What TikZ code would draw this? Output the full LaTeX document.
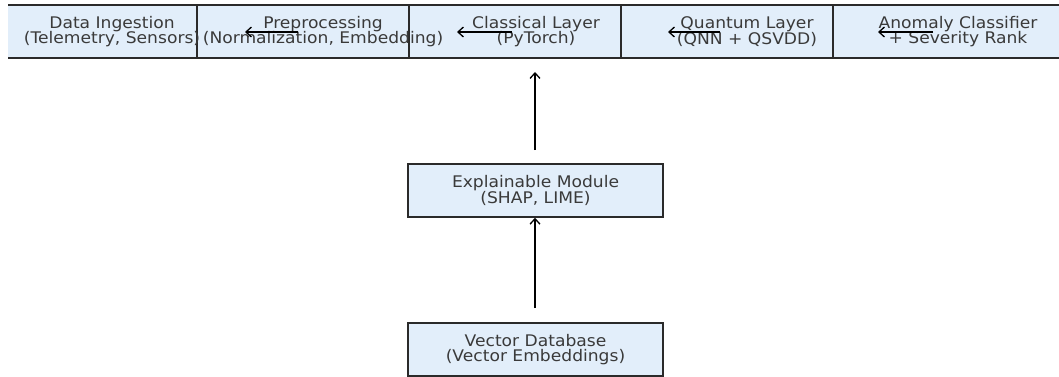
\documentclass[tikz,border=0pt]{standalone}
\usepackage{fontspec}
\newfontfamily\djfont[FakeStretch=1.07]{DejaVu Sans}
\usetikzlibrary{arrows.meta}
\definecolor{boxfill}{HTML}{E2EEFA}
\definecolor{boxline}{HTML}{2A2A2A}
\definecolor{txt}{HTML}{3A3A3A}
\tikzset{
  box/.style={draw=boxline, fill=boxfill, line width=1.5pt, inner sep=0pt},
  topbox/.style={box, minimum height=53pt},
  midbox/.style={box, minimum width=255pt, minimum height=53pt, text=txt, align=center,
     font=\djfont\fontsize{16}{15.5}\selectfont},
  lbl/.style={text=txt, align=center, inner sep=0pt, font=\djfont\fontsize{16}{15.5}\selectfont},
  conn/.style={draw=black, line width=1.4pt, -{Straight Barb[length=5.5pt,width=10pt,line width=1.3pt]}}
}
\begin{document}
\begin{tikzpicture}[x=1pt,y=-1pt]
\useasboundingbox (0,0) rectangle (1059,377);
\begin{scope}
\clip (8,0) rectangle (1059,377);
\node[topbox, minimum width=212pt] (b1) at (91,31.5) {};
\node[topbox, minimum width=212pt] (b2) at (303,31.5) {};
\node[topbox, minimum width=212pt] (b3) at (515,31.5) {};
\node[topbox, minimum width=212pt] (b4) at (727,31.5) {};
\node[topbox, minimum width=250pt] (b5) at (958,31.5) {};
\node[lbl] (t1) at (112,31.5) {Data Ingestion\\(Telemetry, Sensors)};
\node[lbl] (t2) at (323,31.5) {Preprocessing\\(Normalization, Embedding)};
\node[lbl] (t3) at (536,31.5) {Classical Layer\\(PyTorch)};
\node[lbl] (t4) at (747,31.5) {Quantum Layer\\(QNN + QSVDD)};
\node[lbl] (t5) at (958,31.5) {Anomaly Classifier\\+ Severity Rank};
\end{scope}
\node[midbox] (xm) at (535.5,190.5) {Explainable Module\\(SHAP, LIME)};
\node[midbox] (vd) at (535.5,349.5) {Vector Database\\(Vector Embeddings)};
% top-row arrow end points
\coordinate (a1s) at (298,32); \coordinate (a1e) at (245,32);
\coordinate (a2s) at (512,32); \coordinate (a2e) at (457,32);
\coordinate (a3s) at (720,32); \coordinate (a3e) at (668,32);
\coordinate (a4s) at (933,32); \coordinate (a4e) at (878,32);
\coordinate (v1s) at (535,150); \coordinate (v1e) at (535,72);
\coordinate (v2s) at (535,308);
\draw[conn] (a1s) -- (a1e);
\draw[conn] (a2s) -- (a2e);
\draw[conn] (a3s) -- (a3e);
\draw[conn] (a4s) -- (a4e);
\draw[conn] (v1s) -- (v1e);
\draw[conn] (v2s) -- (xm.south -| v2s);
\end{tikzpicture}
\end{document}
